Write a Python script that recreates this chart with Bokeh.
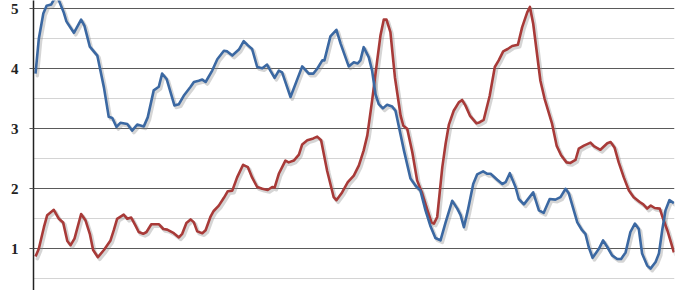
from bokeh.plotting import figure
from bokeh.models import Range1d, FixedTicker, ColumnDataSource
from bokeh.transform import dodge
from bokeh.embed import file_html
from bokeh.resources import INLINE

# month index (fractional) and values
blue_t = [0, 1.1, 2.6, 3.7, 5.2, 6, 7.3, 9.4, 10.3, 12.8, 15.2, 16.3, 18.1, 20.6, 22.8, 24.4, 25.6, 27,
          28.3, 30.6, 32.2, 33.9, 36.1, 37.4, 39.4, 41.1, 42.2, 43.7, 46.3, 47.8, 49.4, 51.7, 52.8, 54.4,
          55.6, 56.7, 58.9, 60.6, 62.8, 63.9, 65.6, 67.8, 69.4, 70.8, 72.2, 73.9, 75.6, 77.2, 78.3, 79.7,
          81.1, 82.2, 85, 88.9, 91.1, 92.6, 93.9, 95.6, 96.3, 98.3, 100.3, 101.7, 104.4, 106.1, 107.4,
          108.3, 109.4, 111.1, 112.2, 113.3, 114.4, 115.8, 117.2, 118.9, 120, 122.8, 125, 126.7, 128.3,
          130, 131.7, 133.3, 135, 136.7, 138.9, 140.6, 141.7, 142.8, 144.1, 145.9, 147.2, 149.2, 150.6,
          151.7, 153.9, 155.6, 156.7, 158.1, 160, 161.1, 162.8, 165.9, 167.8, 169.4, 171.4, 173.3, 175,
          176.7, 177.8, 180.6, 182.2, 183.3, 184.4, 185.7, 187.8, 189.2, 190.6, 192.2, 193.9, 195.2,
          196.7, 198.3, 199.8, 201.1, 202.2, 203.9, 205, 206.7, 207.8, 208.9, 210, 211.3, 212.8]
blue_v = [3.92, 4.5, 4.92, 5.05, 5.07, 5.14, 5.2, 4.94, 4.79, 4.6, 4.82, 4.72, 4.37, 4.22, 3.69, 3.2, 3.18, 3.03,
          3.1, 3.08, 2.97, 3.07, 3.04, 3.19, 3.64, 3.7, 3.92, 3.83, 3.39, 3.41, 3.55, 3.7, 3.78, 3.8,
          3.82, 3.78, 3.97, 4.16, 4.3, 4.29, 4.22, 4.32, 4.46, 4.39, 4.33, 4.03, 4.01, 4.07, 3.97, 3.85,
          3.97, 3.94, 3.53, 4.04, 3.92, 3.92, 4.0, 4.14, 4.14, 4.54, 4.65, 4.42, 4.04, 4.11, 4.09,
          4.14, 4.36, 4.19, 3.97, 3.58, 3.41, 3.34, 3.4, 3.37, 3.3, 2.64, 2.17, 2.05, 1.97,
          1.64, 1.37, 1.18, 1.14, 1.44, 1.8, 1.67, 1.56, 1.36, 1.64, 2.08, 2.24, 2.29, 2.25,
          2.25, 2.15, 2.08, 2.11, 2.26, 2.03, 1.83, 1.74, 1.94, 1.64, 1.6, 1.83, 1.82, 1.86,
          2.0, 1.92, 1.44, 1.31, 1.25, 1.03, 0.85, 1.0, 1.14, 1.03, 0.89, 0.83, 0.83,
          0.94, 1.28, 1.42, 1.33, 0.92, 0.72, 0.67, 0.78, 0.92, 1.31, 1.64, 1.81, 1.76]

red_t = [0, 1.1, 2.8, 3.9, 6.1, 7.8, 9.2, 10.6, 11.7, 13, 15.2, 16.7, 18.1, 19.2, 20.8, 22.8, 25, 26.1, 27.2,
         29.4, 30.6, 31.9, 33.3, 34.4, 35.9, 37, 38.6, 41.1, 42.6, 43.9, 46.1, 47.8, 48.9, 50.3, 51.7,
         52.8, 53.9, 55.6, 56.7, 58.3, 59.4, 61.1, 62.8, 64.1, 65.6, 67.2, 69.2, 70.8, 72.2, 73.9, 75.6,
         77.4, 78.9, 79.7, 81.1, 83.3, 84.4, 86.1, 87.8, 88.9, 90.6, 92.6, 93.9, 95.2, 97.2, 99.4, 100.3,
         102.2, 104.1, 106.1, 107.8, 109.4, 110.6, 112.2, 113.9, 115, 116.1, 117, 118.3, 119.8, 121.7,
         122.6, 123.9, 125.6, 127.2, 128.9, 130.6, 132, 132.8, 133.9, 135.6, 136.7, 137.8, 139.4, 141.1,
         142.2, 143.3, 144.8, 147, 148.1, 149.4, 151.4, 153.1, 154.4, 155.9, 157.4, 158.9, 160.8, 162.2,
         163.9, 164.8, 165.9, 168.3, 169.7, 172.2, 173.7, 175.2, 177, 178.3, 180, 181.1, 182.8, 185,
         186.1, 188.3, 190.6, 191.7, 193, 194.4, 196.1, 197.8, 199.4, 201.4, 202.6, 203.9, 205.1, 206.4,
         208.1, 209.2, 210.6, 212.8]
red_v = [0.87, 1.0, 1.36, 1.56, 1.65, 1.5, 1.44, 1.13, 1.06, 1.17, 1.58, 1.47, 1.25, 0.98, 0.86, 0.98, 1.14, 1.31, 1.5,
         1.57, 1.5, 1.52, 1.39, 1.28, 1.25, 1.28, 1.41, 1.41, 1.33, 1.32, 1.26, 1.19, 1.25, 1.43, 1.49,
         1.44, 1.29, 1.26, 1.31, 1.53, 1.63, 1.72, 1.85, 1.96, 1.97, 2.19, 2.4, 2.36, 2.19, 2.03, 2.0,
         1.98, 2.03, 2.02, 2.25, 2.47, 2.44, 2.47, 2.57, 2.74, 2.81, 2.84, 2.87, 2.81, 2.3, 1.86, 1.81,
         1.94, 2.11, 2.22, 2.39, 2.64, 2.89, 3.47, 4.14, 4.56, 4.82, 4.82, 4.61, 3.86, 3.22,
         3.05, 3.0, 2.61, 2.14, 1.92, 1.65, 1.44, 1.42, 1.53, 2.36, 2.75, 3.07, 3.3, 3.44,
         3.48, 3.39, 3.22, 3.09, 3.11, 3.15, 3.55, 4.03, 4.14, 4.29, 4.33, 4.38, 4.4, 4.69,
         4.94, 5.03, 4.75, 3.8, 3.5, 3.08, 2.72, 2.56, 2.44, 2.43, 2.48, 2.67, 2.72, 2.77,
         2.71, 2.65, 2.76, 2.78, 2.69, 2.44, 2.19, 1.97, 1.86, 1.78, 1.74, 1.67, 1.72, 1.68,
         1.67, 1.5, 1.31, 0.94]

y_ticks = [1, 2, 3, 4, 5]
y_minor = [0.5, 1.5, 2.5, 3.5, 4.5]

BLUE = "#3b68a2"
RED = "#a83a38"

p = figure(width=680, height=290, output_backend="svg", toolbar_location=None,
           x_range=Range1d(-0.67, 213), y_range=Range1d(0.305, 5.138),
           min_border_left=33, min_border_right=6, min_border_top=0, min_border_bottom=0)
p.background_fill_color = "white"
p.border_fill_color = "white"
p.outline_line_color = None
p.xaxis.visible = False
p.xgrid.grid_line_color = None

yax = p.yaxis[0]
yax.ticker = FixedTicker(ticks=y_ticks, minor_ticks=y_minor)
yax.axis_line_color = "#222222"
yax.axis_line_width = 1.5
yax.major_tick_out = 4
yax.major_tick_in = 0
yax.major_tick_line_color = "#555555"
yax.minor_tick_out = 0
yax.minor_tick_in = 0
yax.major_label_standoff = 11
yax.major_label_text_font = "Liberation Serif"
yax.major_label_text_font_style = "bold"
yax.major_label_text_font_size = "15px"
yax.major_label_text_color = "#222222"

p.ygrid.grid_line_color = "#5a5a5a"
p.ygrid.grid_line_width = 1
p.ygrid.minor_grid_line_color = "#d4d4d4"
p.ygrid.minor_grid_line_width = 1

blue_src = ColumnDataSource(dict(t=blue_t, v=blue_v))
red_src = ColumnDataSource(dict(t=red_t, v=red_v))

for src in (blue_src, red_src):
    p.line(x=dodge("t", 0.6, range=p.x_range), y=dodge("v", -0.035, range=p.y_range),
           source=src, line_color="#888888", line_alpha=0.35, line_width=3.5,
           line_join="round", line_cap="round")

p.line(x="t", y="v", source=red_src, line_color=RED, line_width=2.6, line_join="round")
p.line(x="t", y="v", source=blue_src, line_color=BLUE, line_width=2.6, line_join="round")

open("out.html", "w").write(file_html(p, INLINE))
